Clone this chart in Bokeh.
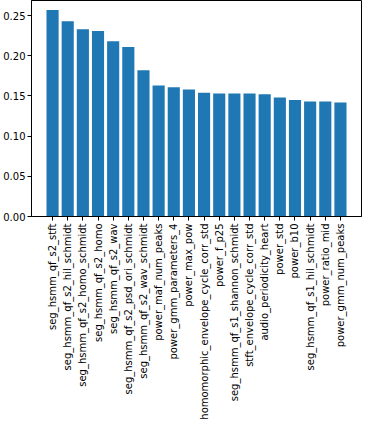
import math
from bokeh.plotting import figure
from bokeh.models import Range1d, FactorRange, FixedTicker, NumeralTickFormatter, ColumnDataSource
from bokeh.embed import file_html
from bokeh.resources import INLINE

features = [
    "seg_hsmm_qf_s2_stft",
    "seg_hsmm_qf_s2_hil_schmidt",
    "seg_hsmm_qf_s2_homo_schmidt",
    "seg_hsmm_qf_s2_homo",
    "seg_hsmm_qf_s2_wav",
    "seg_hsmm_qf_s2_psd_ori_schmidt",
    "seg_hsmm_qf_s2_wav_schmidt",
    "power_maf_num_peaks",
    "power_gmm_parameters_4",
    "power_max_pow",
    "homomorphic_envelope_cycle_corr_std",
    "power_f_p25",
    "seg_hsmm_qf_s1_shannon_schmidt",
    "stft_envelope_cycle_corr_std",
    "audio_periodicity_heart",
    "power_std",
    "power_b10",
    "seg_hsmm_qf_s1_hil_schmidt",
    "power_ratio_mid",
    "power_gmm_num_peaks",
]
importance = [0.257, 0.243, 0.233, 0.231, 0.218, 0.211, 0.182, 0.163, 0.161, 0.158,
              0.154, 0.153, 0.153, 0.153, 0.152, 0.148, 0.145, 0.143, 0.143, 0.142]
y_ticks = [0.0, 0.05, 0.10, 0.15, 0.20, 0.25]

src = ColumnDataSource(dict(x=features, top=importance))

p = figure(width=362, frame_height=216, output_backend="svg", toolbar_location=None,
           x_range=FactorRange(*features, range_padding=0.089),
           y_range=Range1d(0, max(importance) * 1.046),
           min_border_left=28, min_border_right=1, min_border_top=0, min_border_bottom=0)

p.vbar(x="x", top="top", width=0.8, source=src, color="#1f77b4", line_color=None)

p.xgrid.visible = False
p.ygrid.visible = False
p.outline_line_color = "black"
p.outline_line_width = 1
p.outline_line_alpha = 1

for ax in (p.xaxis[0], p.yaxis[0]):
    ax.axis_label = None
    ax.axis_line_color = "black"
    ax.major_tick_line_color = "black"
    ax.major_tick_out = 4
    ax.major_tick_in = 0
    ax.minor_tick_line_color = None
    ax.major_label_text_font = "DejaVu Sans"
    ax.major_label_text_font_size = "10px"
    ax.major_label_text_color = "black"
    ax.major_label_standoff = 3

p.yaxis.major_label_standoff = 2
p.xaxis.major_label_orientation = math.pi / 2
p.yaxis.ticker = FixedTicker(ticks=y_ticks)
p.yaxis.formatter = NumeralTickFormatter(format="0.00")

open("out.html", "w").write(file_html(p, INLINE))
